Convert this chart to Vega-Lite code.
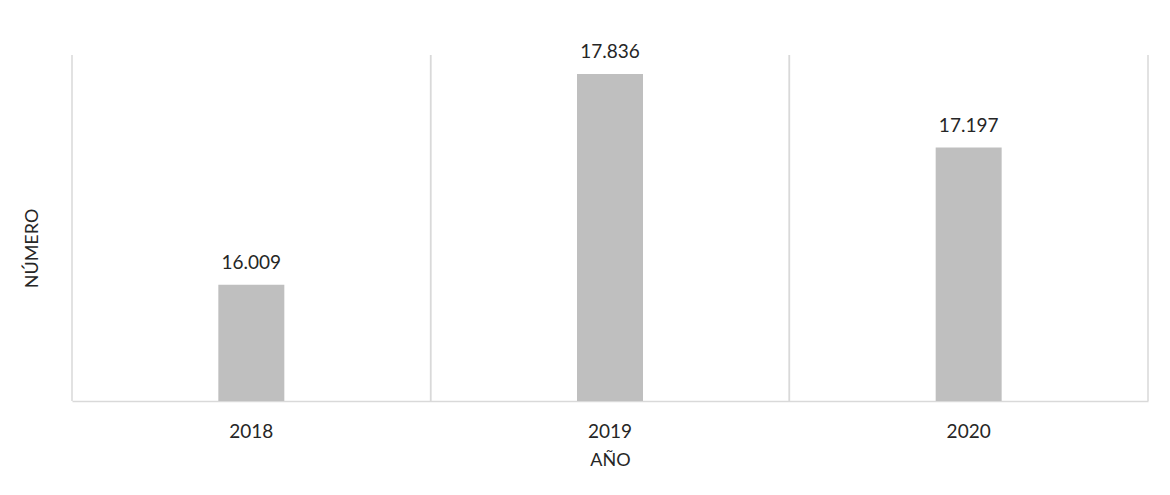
{
  "$schema": "https://vega.github.io/schema/vega-lite/v6.json",
  "width": 1076,
  "height": 346,
  "autosize": {"type": "none"},
  "padding": {"left": 72, "top": 55, "right": 22, "bottom": 94},
  "background": "white",
  "config": {
    "locale": {"number": {"decimal": ",", "thousands": ".", "grouping": [3], "currency": ["", ""]}},
    "font": "Lato",
    "view": {"stroke": null}
  },
  "data": {"values": [
    {"year": "2018", "value": 16009},
    {"year": "2019", "value": 17836},
    {"year": "2020", "value": 17197}
  ]},
  "encoding": {
    "x": {"field": "year", "type": "nominal", "scale": {"padding": 0},
      "axis": {"title": "AÑO", "labelAngle": 0, "labelFontSize": 19, "labelColor": "#262626", "labelPadding": 21,
        "titleFontSize": 18, "titleColor": "#262626", "titleFontWeight": "normal", "titlePadding": 10,
        "domainColor": "#D9D9D9", "domainWidth": 1.5, "ticks": false, "grid": false}}
  },
  "layer": [
    {"mark": {"type": "rule", "color": "#D9D9D9", "strokeWidth": 1.5},
     "encoding": {"x": {"field": "year", "type": "nominal", "bandPosition": 0}}},
    {"mark": {"type": "rule", "color": "#D9D9D9", "strokeWidth": 1.5},
     "encoding": {"x": {"field": "year", "type": "nominal", "bandPosition": 1}}},
    {"mark": {"type": "bar", "color": "#BFBFBF", "width": {"band": 0.184}},
     "encoding": {"y": {"field": "value", "type": "quantitative", "scale": {"domain": [15000, 18000], "zero": false},
       "axis": {"title": "NÚMERO", "labels": false, "ticks": false, "domain": false, "grid": false,
         "titleFontSize": 18, "titleColor": "#262626", "titleFontWeight": "normal", "titleY": 193, "titleX": -31}},
       "y2": {"datum": 15000}}},
    {"mark": {"type": "text", "fontSize": 19, "color": "#262626", "baseline": "bottom", "dy": -12},
     "encoding": {"y": {"field": "value", "type": "quantitative"},
       "text": {"field": "value", "type": "quantitative", "format": ",.0f"}}}
  ]
}
